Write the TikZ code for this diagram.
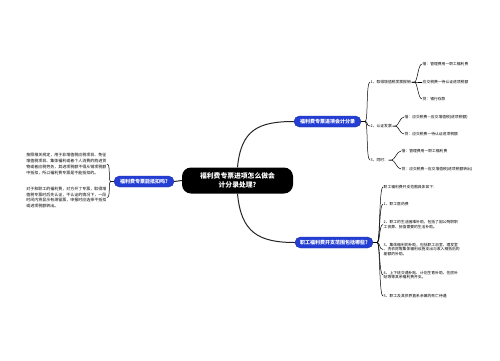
\documentclass[tikz,border=0pt]{standalone}
\usepackage{fontspec}
\setmainfont{Noto Sans CJK SC}
\definecolor{mmblue}{RGB}{36,62,212}
\tikzset{
  central/.style={fill=black, rounded corners=9pt, text=white, font=\fontsize{6.8}{9}\selectfont\bfseries, align=center, minimum width=111pt, minimum height=26pt, inner sep=0pt},
  mainb/.style={fill=mmblue, draw=mmblue!75!black, line width=0.4pt, rounded corners=5.5pt, text=white, font=\fontsize{5}{6}\selectfont\bfseries, minimum height=11pt, inner sep=0pt},
  leaf/.style={font=\fontsize{3.8}{4.8}\selectfont, inner sep=0.5pt, anchor=west, align=left},
  leftleaf/.style={font=\fontsize{4}{5.7}\selectfont, inner sep=0.5pt, anchor=east, align=left},
  thicklink/.style={line width=1pt, draw=black!85},
  thinlink/.style={line width=0.5pt, draw=black},
}
\begin{document}
\begin{tikzpicture}[x=1pt,y=-1pt]
\fill[white] (0,0) rectangle (500,360);
\useasboundingbox (0,0) rectangle (500,360);

\node[central] (c) at (237.5,180.5) {福利费专票进项怎么做会\\计分录处理?};
\node[mainb, minimum width=67pt] (tr) at (327.5,121.5) {福利费专票进项会计分录};
\node[mainb, minimum width=60pt] (l) at (144,181.5) {福利费专票能抵扣吗?};
\node[mainb, minimum width=78pt] (br) at (334,242.5) {职工福利费开支范围包括哪些?};

% top right
\node[leaf] (t1) at (370,82) {1、取得增值税发票报销};
\node[leaf] (t2) at (370,126) {2、认证发票};
\node[leaf] (t3) at (370,160) {3、同时：};
\node[leaf] (t1a) at (422,64) {借：管理费用一职工福利费};
\node[leaf] (t1b) at (422,82) {应交税费一待认证进项税额};
\node[leaf] (t1c) at (422,99) {贷：银行存款};
\node[leaf] (t2a) at (404,117) {借：应交税费—应交增值税(进项税额)};
\node[leaf] (t2b) at (404,134) {贷：应交税费一待认证进项税额};
\node[leaf] (t3a) at (401,151) {借：管理费用一职工福利费};
\node[leaf] (t3b) at (401,169) {贷：应交税费—应交增值税(进项税额转出)};

% left
\node[leftleaf] (la) at (107,164) {按照相关规定，用于非增值税应税项目、免征\\增值税项目、集体福利或者个人消费的购进货\\物或者应税劳务，其进项税额不得从销项税额\\中抵扣，所以福利费专票是不能抵扣的。};
\node[leftleaf] (lb) at (107,197.5) {对于和职工的福利费，对方开了专票，取得增\\值税专票时后先认证，不认证的情况下，一段\\时间内将显示有滞留票，申报时应选择不抵扣\\或进项税额转出。};

% bottom right
\node[leaf] (b0) at (383,187) {职工福利费开支范围具体如下：};
\node[leaf] (b1) at (383,204) {1、职工医药费};
\node[leaf] (b2) at (383,224.5) {2、职工的生活困难补助，包括了因公殉职职\\工丧葬、抚恤需要的生活补助。};
\node[leaf] (b3) at (383,249.5) {3、集体福利的补助，包括职工浴室、理发室\\、洗衣房等集体福利设施支出与收入相抵后的\\差额的补助。};
\node[leaf] (b4) at (383,275) {4、上下班交通补贴、计划生育补助、住房补\\贴等等其余福利费开支。};
\node[leaf] (b5) at (383,296) {5、职工及其供养直系亲属的死亡待遇};

% main connectors
\draw[thicklink] (c.north) .. controls (241,130) and (258,121.5) .. (tr.west);
\draw[thicklink] (c.south) .. controls (241,232) and (258,242.5) .. (br.west);
\draw[thicklink] (c.west) -- (l.east);

% braces
\foreach \k in {t1,t2,t3}
  \draw[thinlink] (tr.east) -- ++(4,0) .. controls +(3,0) and +(-4,0) .. (\k.west);
\foreach \k in {t1a,t1b,t1c}
  \draw[thinlink] (t1.east) -- ++(3,0) .. controls +(3,0) and +(-4,0) .. (\k.west);
\foreach \k in {t2a,t2b}
  \draw[thinlink] (t2.east) -- ++(3,0) .. controls +(3,0) and +(-4,0) .. (\k.west);
\foreach \k in {t3a,t3b}
  \draw[thinlink] (t3.east) -- ++(3,0) .. controls +(3,0) and +(-4,0) .. (\k.west);
\foreach \k in {la,lb}
  \draw[thinlink] (l.west) -- ++(-3,0) .. controls +(-3,0) and +(4,0) .. (\k.east);
\foreach \k in {b0,b1,b2,b3,b4,b5}
  \draw[thinlink] (br.east) -- ++(4,0) .. controls +(3,0) and +(-4,0) .. (\k.west);
\end{tikzpicture}
\end{document}
